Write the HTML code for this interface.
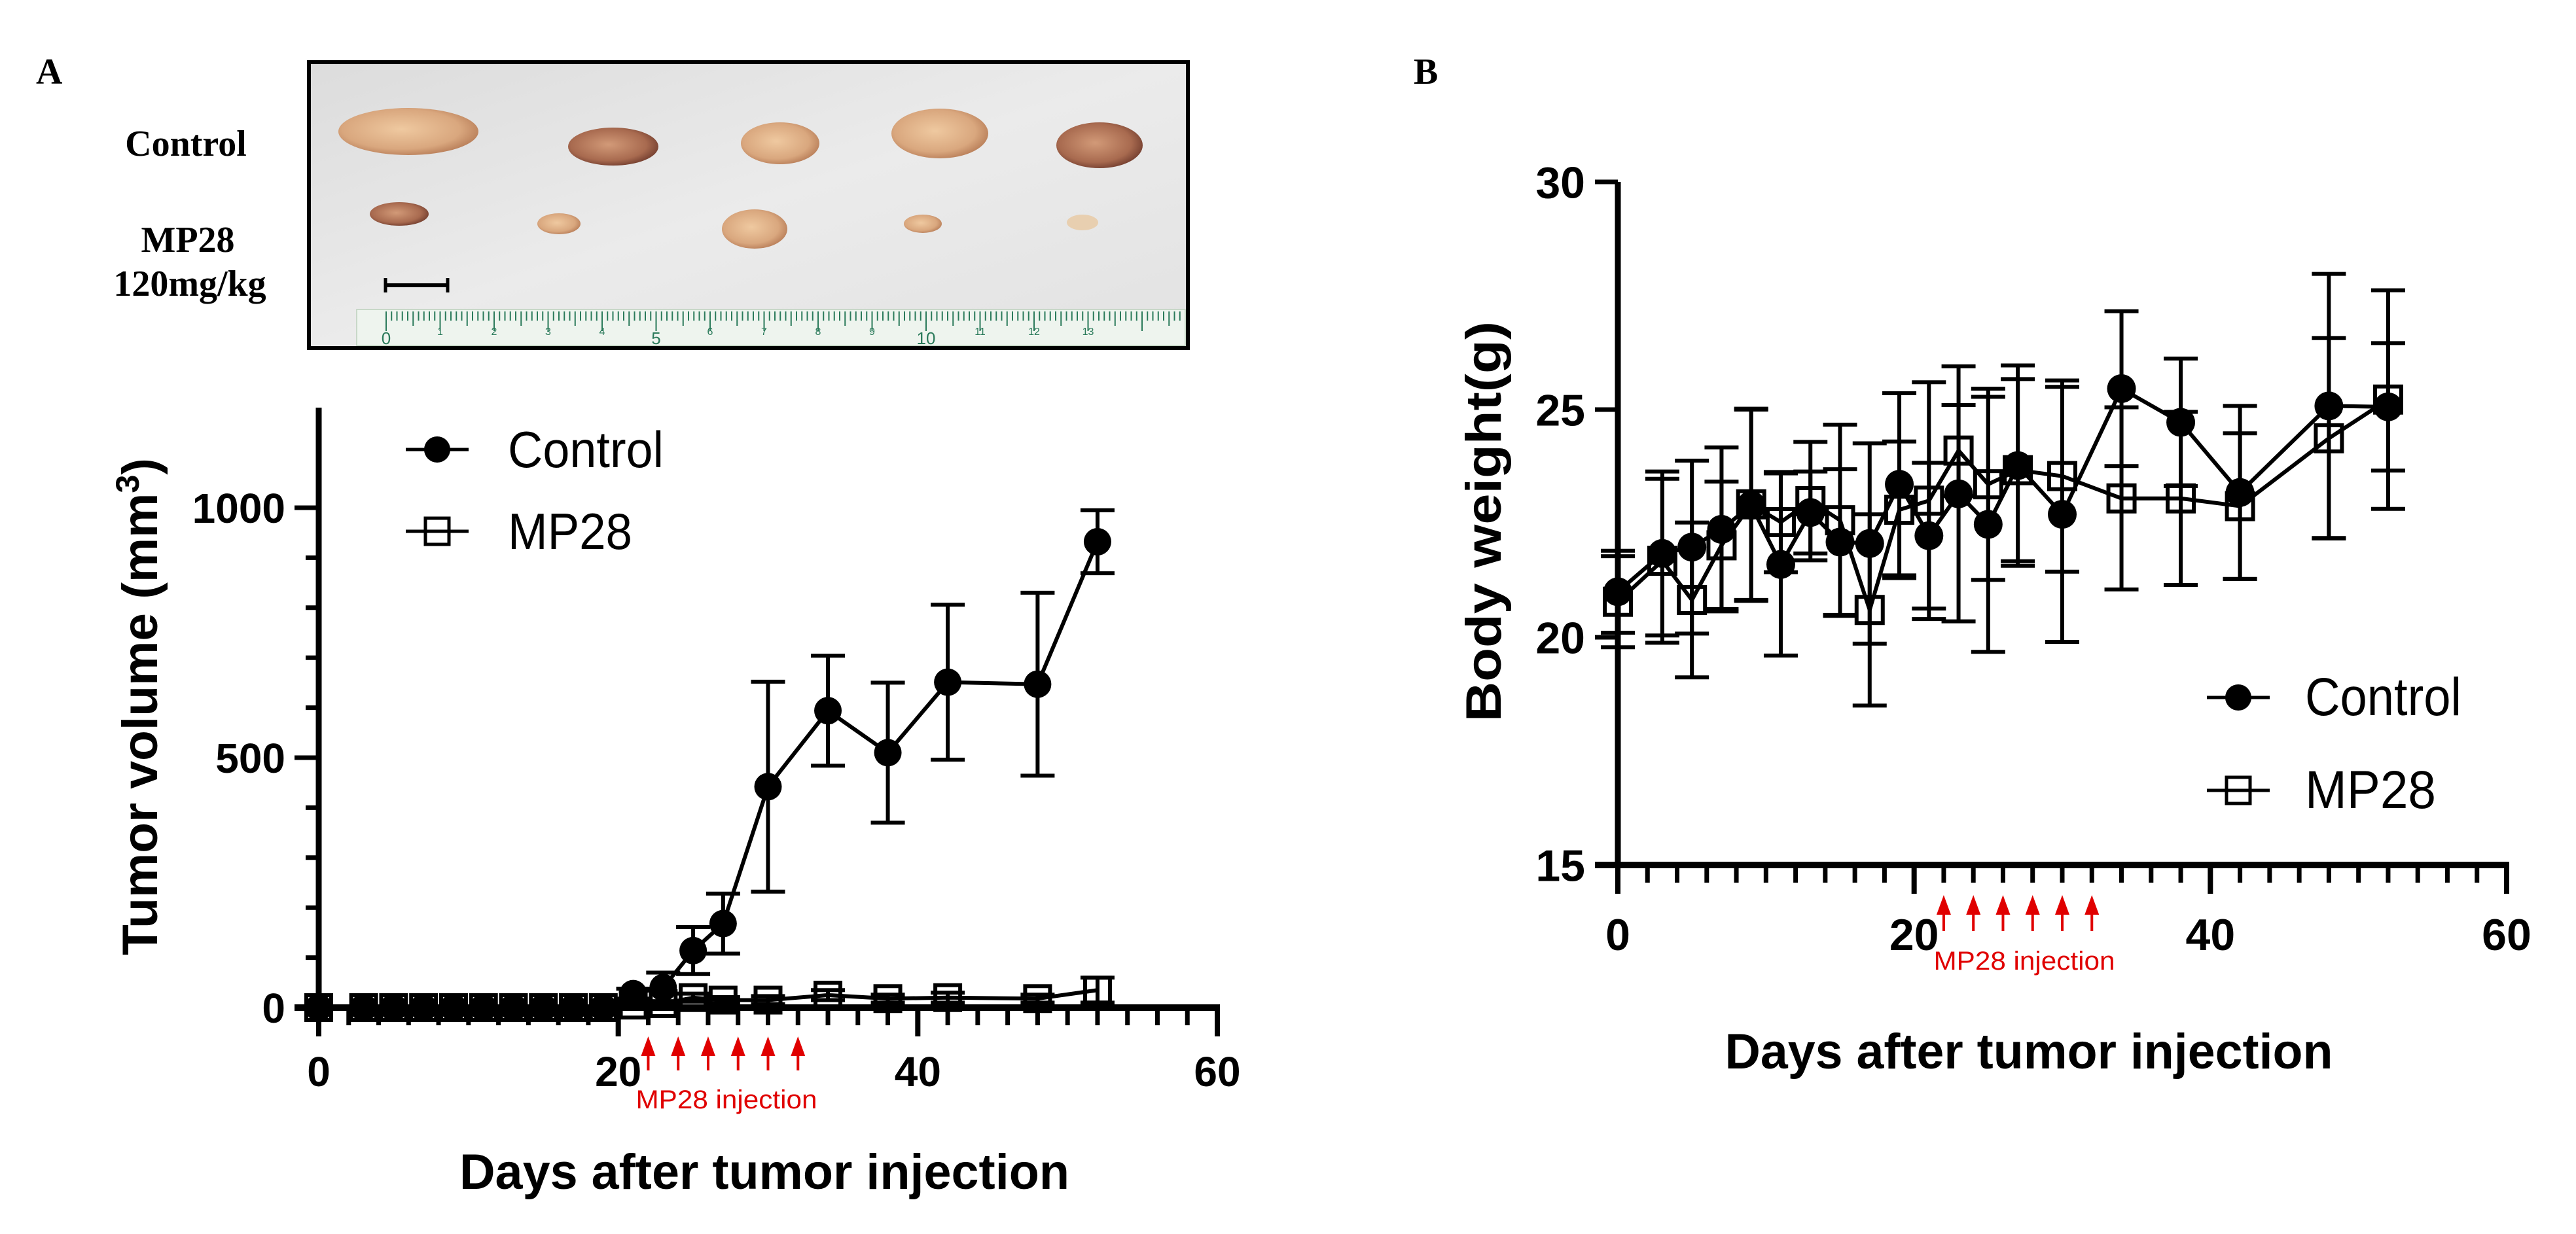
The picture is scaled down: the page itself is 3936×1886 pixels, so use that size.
<!DOCTYPE html>
<html><head><meta charset="utf-8"><style>
html,body{margin:0;padding:0;background:#fff;}
svg{display:block;}
text{font-family:"Liberation Sans",Arial,sans-serif;}
text.serif{font-family:"Liberation Serif","Times New Roman",serif;}
</style></head><body>
<svg id="fig" width="3936" height="1886" viewBox="0 0 3936 1886" xmlns="http://www.w3.org/2000/svg">
<defs>
<linearGradient id="bg" x1="0" y1="0" x2="1" y2="1"><stop offset="0" stop-color="#dcdcdc"/><stop offset="0.5" stop-color="#ebebeb"/><stop offset="1" stop-color="#e2e2e2"/></linearGradient>
<radialGradient id="tum" cx="0.45" cy="0.45" r="0.6"><stop offset="0" stop-color="#efc9a0"/><stop offset="0.7" stop-color="#d9a77e"/><stop offset="1" stop-color="#b57a55"/></radialGradient>
<radialGradient id="tumd" cx="0.45" cy="0.45" r="0.6"><stop offset="0" stop-color="#d29a78"/><stop offset="0.7" stop-color="#a86a4f"/><stop offset="1" stop-color="#6e3a2c"/></radialGradient>
</defs>
<text class="serif" x="55" y="128" font-weight="bold" font-size="56">A</text>
<text class="serif" x="2160" y="128" font-weight="bold" font-size="56">B</text>
<g font-weight="bold" font-size="56" text-anchor="middle">
<text class="serif" x="284" y="238">Control</text>
<text class="serif" x="287" y="385">MP28</text>
<text class="serif" x="290" y="452">120mg/kg</text>
</g>
<g>
<rect x="472" y="95" width="1343" height="437" fill="url(#bg)" stroke="#000" stroke-width="6"/>
<ellipse cx="624" cy="201" rx="107" ry="36" fill="url(#tum)"/>
<ellipse cx="937" cy="224" rx="69" ry="29" fill="url(#tumd)"/>
<ellipse cx="1192" cy="219" rx="60" ry="32" fill="url(#tum)"/>
<ellipse cx="1436" cy="204" rx="74" ry="38" fill="url(#tum)"/>
<ellipse cx="1680" cy="222" rx="66" ry="35" fill="url(#tumd)"/>
<ellipse cx="610" cy="327" rx="45" ry="18" fill="url(#tumd)"/>
<ellipse cx="854" cy="342" rx="33" ry="16" fill="url(#tum)"/>
<ellipse cx="1153" cy="350" rx="50" ry="30" fill="url(#tum)"/>
<ellipse cx="1410" cy="342" rx="29" ry="14" fill="url(#tum)"/>
<ellipse cx="1654" cy="340" rx="24" ry="12" fill="#e8cfb0"/>
<rect x="545" y="473" width="1266" height="55" fill="#eef4ee" stroke="#c8d8c8" stroke-width="2"/>
<g id="ruler" stroke="#2a7a5a" stroke-width="2"></g>
<line x1="589" y1="436" x2="684" y2="436" stroke="#000" stroke-width="6"/>
<line x1="589" y1="425" x2="589" y2="447" stroke="#000" stroke-width="5"/>
<line x1="684" y1="425" x2="684" y2="447" stroke="#000" stroke-width="5"/>
</g>
<g id="chartA"></g>
<g id="chartB"></g>
</svg>
<script>
// ---- Chart A data (tumor volume) ----
const daysA = [0,3,5,7,9,11,13,15,17,19,21,23,25,27,30,34,38,42,48,52];
const ctrlVolA = [0,0,0,0,0,0,0,0,0,0,28,40,114,168,442,594,510,651,647,932];
const ctrlErrA = [0,0,0,0,0,0,0,0,0,0,10,30,47,60,210,110,140,155,183,63];
const mpVolA = [0,0,0,0,0,0,0,0,0,0,5,8,20,15,15,25,18,20,18,35];
const mpErrA = [0,0,0,0,0,0,0,0,0,0,3,5,8,6,8,10,8,10,8,25];
const yTicksA = [0,500,1000];
const xTicks = [0,20,40,60];
const injDays = [22,24,26,28,30,32];
// ---- Chart B data (body weight) ----
const daysB = [0,3,5,7,9,11,13,15,17,19,21,23,25,27,30,34,38,42,48,52];
const ctrlWtB = [21.0,21.84,21.98,22.37,22.9,21.6,22.74,22.09,22.06,23.36,22.23,23.15,22.48,23.77,22.7,25.46,24.72,23.18,25.08,25.06];
const ctrlErrB = [0.9,1.8,1.9,1.8,2.1,2.0,0.9,1.6,2.2,2.0,1.6,2.8,2.8,2.2,2.8,1.7,1.4,1.9,2.9,1.4];
const mpWtB = [20.78,21.68,20.82,22.02,22.92,22.53,22.99,22.57,20.6,22.8,23.0,24.1,23.36,23.67,23.54,23.05,23.05,22.88,24.37,25.22];
const mpErrB = [1.0,1.8,1.7,1.4,2.1,1.1,1.3,2.1,2.1,1.5,2.6,1.0,2.1,2.0,2.1,2.0,1.9,1.6,2.2,2.4];
const yTicksB = [15,20,25,30];

const NS='http://www.w3.org/2000/svg';
function mk(parent,tag,attrs,txt){const e=document.createElementNS(NS,tag);for(const k in attrs)e.setAttribute(k,attrs[k]);if(txt!==undefined)e.textContent=txt;parent.appendChild(e);return e;}

// ruler ticks
(function(){const r=document.getElementById('ruler');const x0=590,dx=82.5;
for(let i=0;i<=148;i++){const x=x0+i*dx/10;if(x>1808)break;const L=i%10==0?30:(i%5==0?22:14);mk(r,'line',{x1:x,y1:476,x2:x,y2:476+L});}
for(let i=0;i<=13;i++){const t=mk(r,'text',{x:x0+i*dx,y:i%5==0?526:512,'font-size':i%5==0?26:16,fill:'#2a7a5a',stroke:'none','text-anchor':'middle'},String(i));

}})();

function drawChart(g,cfg){
  const X=d=>cfg.x0+(d-cfg.dmin)*(cfg.x1-cfg.x0)/(cfg.dmax-cfg.dmin);
  const Y=v=>cfg.y0+(v-cfg.vmin)*(cfg.y1-cfg.y0)/(cfg.vmax-cfg.vmin);
  const axes=mk(g,'g',{stroke:'#000','stroke-linecap':'butt'});
  
  
  mk(axes,'line',{x1:cfg.x0,y1:cfg.y0+5,x2:cfg.x0,y2:cfg.yTop,'stroke-width':9});
  mk(axes,'line',{x1:cfg.x0-cfg.ymaj,y1:cfg.y0,x2:cfg.x1+4,y2:cfg.y0,'stroke-width':10});
  for(let d=cfg.dmin;d<=cfg.dmax;d+=2){const maj=d%20==0;mk(axes,'line',{x1:X(d),y1:cfg.y0,x2:X(d),y2:cfg.y0+(maj?44:27),'stroke-width':maj?8:7});}
  if(cfg.yMinor){for(let v=cfg.vmin;v<=cfg.vmax+1e-6;v+=cfg.yMinor){mk(axes,'line',{x1:cfg.x0-(Math.abs(v%cfg.yMajor)<1e-6?cfg.ymaj:cfg.ymin),y1:Y(v),x2:cfg.x0,y2:Y(v),'stroke-width':7});}}
  else{cfg.yTicks.forEach(v=>mk(axes,'line',{x1:cfg.x0-cfg.ymaj,y1:Y(v),x2:cfg.x0,y2:Y(v),'stroke-width':7}));}
  xTicks.forEach(d=>{const t=mk(g,'text',{x:X(d),y:cfg.xLabY,'font-size':cfg.tickFs,'font-weight':'bold','text-anchor':'middle'},String(d));
    
    });
  cfg.yTicks.forEach(v=>{const t=mk(g,'text',{x:cfg.yLabX,y:Y(v)+cfg.tickFs*0.36,'font-size':cfg.tickFs,'font-weight':'bold','text-anchor':'end'},String(v));
    
    });
  function series(vals,errs,kind,name){
    const sg=mk(g,'g',{});
    
    
    const pts=cfg.days.map((d,i)=>X(d)+','+Y(vals[i])).join(' ');
    mk(sg,'polyline',{points:pts,fill:'none',stroke:'#000','stroke-width':6});
    cfg.days.forEach((d,i)=>{if(errs[i]>0){const x=X(d);const a=Y(vals[i]+errs[i]),b=Y(vals[i]-errs[i]);
      const eb=mk(sg,'path',{d:`M${x},${a}V${b}M${x-26},${a}H${x+26}M${x-26},${b}H${x+26}`,stroke:'#000','stroke-width':6,fill:'none'});
      
      }});
    cfg.days.forEach((d,i)=>{const x=X(d),y=Y(vals[i]);let m;
      if(kind=='circle'){m=mk(sg,'circle',{cx:x,cy:y,r:cfg.r,fill:'#000'});}
      else{m=mk(sg,'rect',{x:x-cfg.r+2,y:y-cfg.r+2,width:2*cfg.r-4,height:2*cfg.r-4,fill:'none',stroke:'#000','stroke-width':6});}
      
      });
  }
  series(cfg.mpV,cfg.mpE,'square','series-mp28');
  series(cfg.ctV,cfg.ctE,'circle','series-control');
  const ag=mk(g,'g',{fill:'#e00000',stroke:'#e00000'});
  
  
  injDays.forEach(d=>{const x=X(d);mk(ag,'line',{x1:x,y1:cfg.arrT+20,x2:x,y2:cfg.arrB,'stroke-width':4});
    mk(ag,'path',{d:`M${x},${cfg.arrT}L${x-11},${cfg.arrT+30}L${x+11},${cfg.arrT+30}Z`,stroke:'none'});});
  const it=mk(g,'text',{x:cfg.injX,y:cfg.injY,'font-size':cfg.injFs,fill:'#e00000','text-anchor':'middle',textLength:cfg.injW,lengthAdjust:'spacingAndGlyphs'},'MP28 injection');
  
  
  const xt=mk(g,'text',{x:cfg.xtX,y:cfg.xtY,'font-size':cfg.titleFs,'font-weight':'bold','text-anchor':'middle',textLength:cfg.xtW,lengthAdjust:'spacingAndGlyphs'},'Days after tumor injection');
  
  
  const yt=mk(g,'text',{transform:`translate(${cfg.ytX},${cfg.ytY}) rotate(-90)`,'font-size':cfg.titleFs,'font-weight':'bold','text-anchor':'middle',textLength:cfg.ytW,lengthAdjust:'spacingAndGlyphs'});
  
  
  yt.innerHTML=cfg.ytHTML;
  const lg=mk(g,'g',{});
  
  
  [['Control','circle',cfg.legY1],['MP28','square',cfg.legY2]].forEach(([lab,kind,y])=>{
    const e=mk(lg,'g',{});
    
    
    mk(e,'line',{x1:cfg.legX-48,y1:y,x2:cfg.legX+48,y2:y,stroke:'#000','stroke-width':5});
    if(kind=='circle')mk(e,'circle',{cx:cfg.legX,cy:y,r:20,fill:'#000'});
    else mk(e,'rect',{x:cfg.legX-18,y:y-20,width:36,height:40,fill:'none',stroke:'#000','stroke-width':5});
    mk(e,'text',{x:cfg.legTX,y:y+27,'font-size':cfg.legFs,textLength:lab=='Control'?cfg.legW1:cfg.legW2,lengthAdjust:'spacingAndGlyphs'},lab);
  });
}

drawChart(document.getElementById('chartA'),{
  x0:487,x1:1860,dmin:0,dmax:60,y0:1540,y1:776,vmin:0,vmax:1000,yTop:623,
  yMinor:100,yMajor:500,ymaj:37,ymin:20,yTicks:yTicksA,
  days:daysA,ctV:ctrlVolA,ctE:ctrlErrA,mpV:mpVolA,mpE:mpErrA,r:21,
  tickFs:64,xLabY:1660,yLabX:436,
  arrT:1584,arrB:1636,injX:1110,injY:1694,injFs:40,injW:277,
  titleFs:76,xtX:1168,xtY:1817,xtW:932,ytX:240,ytY:1080,ytW:760,
  ytHTML:'Tumor volume (mm<tspan dy="-28" font-size="50">3</tspan><tspan dy="28">)</tspan>',
  legX:668,legY1:687,legY2:812,legTX:776,legFs:78,legW1:238,legW2:190
});
drawChart(document.getElementById('chartB'),{
  x0:2472,x1:3830,dmin:0,dmax:60,y0:1322,y1:278,vmin:15,vmax:30,yTop:278,
  yMinor:0,ymaj:35,ymin:0,yTicks:yTicksB,
  days:daysB,ctV:ctrlWtB,ctE:ctrlErrB,mpV:mpWtB,mpE:mpErrB,r:22,
  tickFs:68,xLabY:1452,yLabX:2422,
  arrT:1368,arrB:1423,injX:3093,injY:1482,injFs:40,injW:277,
  titleFs:76,xtX:3100,xtY:1633,xtW:929,ytX:2293,ytY:797,ytW:612,
  ytHTML:'Body weight(g)',
  legX:3420,legY1:1066,legY2:1208,legTX:3522,legFs:82,legW1:239,legW2:200
});
</script>
</body></html>
